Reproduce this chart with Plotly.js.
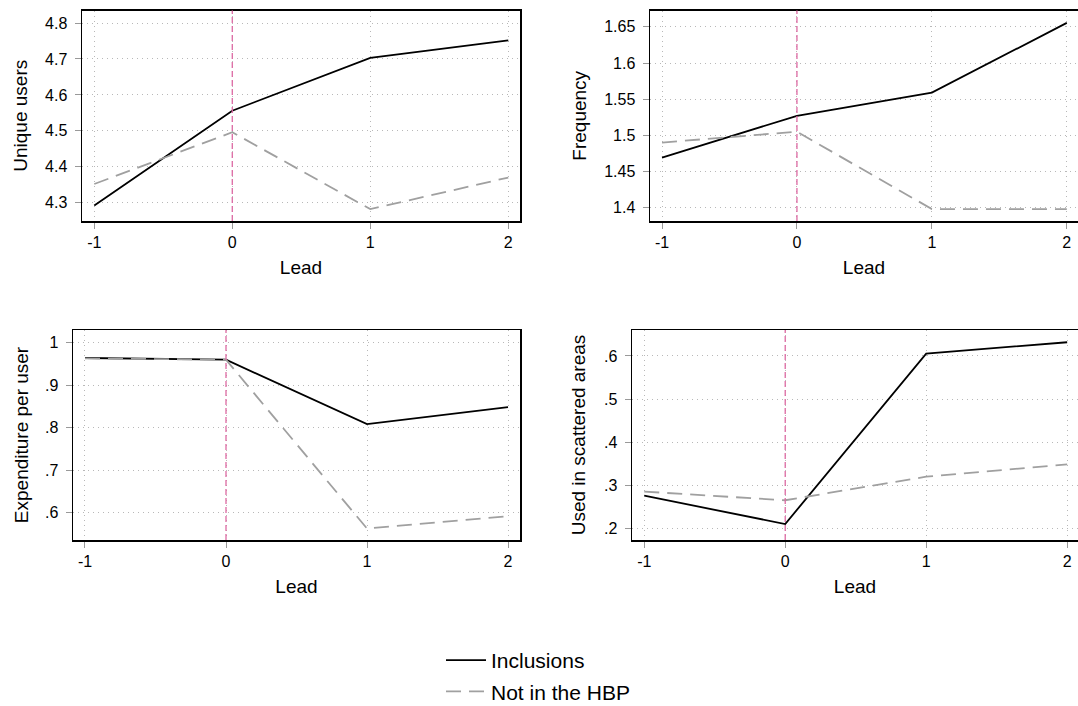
<!DOCTYPE html>
<html>
<head>
<meta charset="utf-8">
<script src="https://cdn.plot.ly/plotly-3.0.1.min.js"></script>
<style>html,body{margin:0;padding:0;background:#fff}#chart{width:1078px;height:706px}</style>
</head>
<body>
<div id="chart"></div>
<script>
const leads = [-1, 0, 1, 2];
const seriesNames = ["Inclusions", "Not in the HBP"];

const uniqueInclusions = [4.292, 4.556, 4.703, 4.752];
const uniqueNotHBP     = [4.352, 4.496, 4.282, 4.370];

const freqInclusions = [1.469, 1.527, 1.559, 1.6555];
const freqNotHBP     = [1.490, 1.505, 1.398, 1.398];

const expInclusions = [0.964, 0.960, 0.808, 0.848];
const expNotHBP     = [0.963, 0.960, 0.562, 0.591];

const scatInclusions = [0.2765, 0.211, 0.6054, 0.6317];
const scatNotHBP     = [0.286, 0.266, 0.3205, 0.349];

const yTitles = ["Unique users", "Frequency", "Expenditure per user", "Used in scattered areas"];
const xTitle = "Lead";

const uniqueTicks = [4.3, 4.4, 4.5, 4.6, 4.7, 4.8];
const uniqueTickText = ["4.3", "4.4", "4.5", "4.6", "4.7", "4.8"];
const freqTicks = [1.4, 1.45, 1.5, 1.55, 1.6, 1.65];
const freqTickText = ["1.4", "1.45", "1.5", "1.55", "1.6", "1.65"];
const expTicks = [0.6, 0.7, 0.8, 0.9, 1];
const expTickText = [".6", ".7", ".8", ".9", "1"];
const scatTicks = [0.2, 0.3, 0.4, 0.5, 0.6];
const scatTickText = [".2", ".3", ".4", ".5", ".6"];
const xTicks = [-1, 0, 1, 2];
const xTickText = ["-1", "0", "1", "2"];

const W = 1078, H = 706;
const FONT = "Liberation Sans, Arial, Helvetica, sans-serif";

const panels = [
  {inc: uniqueInclusions, not: uniqueNotHBP, yt: uniqueTicks, ytt: uniqueTickText,
   yr: [4.249, 4.835], px: [82, 520], py: [10.5, 221], xr: [-1.089, 2.085], right: false, ys: 12},
  {inc: freqInclusions, not: freqNotHBP, yt: freqTicks, ytt: freqTickText,
   yr: [1.3815, 1.6726], px: [650, 1078], py: [10.5, 221], xr: [-1.089, 2.083], right: true, ys: 12},
  {inc: expInclusions, not: expNotHBP, yt: expTicks, ytt: expTickText,
   yr: [0.535, 1.030], px: [73, 520], py: [330, 540], xr: [-1.085, 2.085], right: false, ys: 11},
  {inc: scatInclusions, not: scatNotHBP, yt: scatTicks, ytt: scatTickText,
   yr: [0.174, 0.660], px: [632, 1078], py: [330, 540], xr: [-1.087, 2.077], right: true, ys: 13}
];

const data = [];
const layout = {
  width: W, height: H,
  margin: {l: 0, r: 0, t: 0, b: 0, autoexpand: false},
  paper_bgcolor: "#fff", plot_bgcolor: "#fff",
  font: {family: FONT, color: "#000", size: 16},
  showlegend: true,
  legend: {
    x: 441 / W, xanchor: "left", y: 1 - 640 / H, yanchor: "top",
    font: {size: 21, family: FONT}, tracegroupgap: 1, itemwidth: 40,
    bgcolor: "rgba(0,0,0,0)"
  },
  shapes: []
};

panels.forEach((p, i) => {
  const n = i + 1;
  const xa = "x" + (n === 1 ? "" : n), ya = "y" + (n === 1 ? "" : n);
  const xk = "xaxis" + (n === 1 ? "" : n), yk = "yaxis" + (n === 1 ? "" : n);
  data.push({
    x: leads, y: p.inc, xaxis: xa, yaxis: ya, type: "scatter", mode: "lines",
    name: seriesNames[0], legendgroup: "inc", showlegend: i === 0,
    line: {color: "#000", width: 1.8}, hoverinfo: "skip"
  });
  data.push({
    x: leads, y: p.not, xaxis: xa, yaxis: ya, type: "scatter", mode: "lines",
    name: seriesNames[1], legendgroup: "not", showlegend: i === 0,
    line: {color: "#a0a0a0", width: 1.8, dash: "15px,8px"}, hoverinfo: "skip"
  });
  layout[xk] = {
    domain: [p.px[0] / W, p.px[1] / W], anchor: ya, range: p.xr,
    tickvals: xTicks, ticktext: xTickText, ticks: "outside", ticklen: 6,
    tickcolor: "#999", tickwidth: 1, showline: true, linecolor: "#000", linewidth: 1.5,
    mirror: true, showgrid: true, gridcolor: "#b8b8b8", griddash: "1px,4px", gridwidth: 1,
    zeroline: false, tickfont: {size: 16, family: FONT}, ticklabelstandoff: 0,
    title: {text: xTitle, font: {size: 19, family: FONT}, standoff: 11}
  };
  layout[yk] = {
    domain: [1 - p.py[1] / H, 1 - p.py[0] / H], anchor: xa, range: p.yr,
    tickvals: p.yt, ticktext: p.ytt, ticks: "outside", ticklen: 6,
    tickcolor: "#999", tickwidth: 1, showline: true, linecolor: "#000", linewidth: 1.5,
    mirror: p.right ? false : true, showgrid: true, gridcolor: "#b8b8b8", griddash: "1px,4px", gridwidth: 1,
    zeroline: false, tickfont: {size: 16, family: FONT}, ticklabelstandoff: 4,
    title: {text: yTitles[i], font: {size: 19, family: FONT}, standoff: p.ys}
  };
  layout.shapes.push({
    type: "line", xref: xa, yref: "paper", x0: 0, x1: 0,
    y0: 1 - p.py[1] / H, y1: 1 - p.py[0] / H,
    line: {color: "#dd6aa3", width: 1.3, dash: "6px,3px"}, layer: "above"
  });
});

Plotly.newPlot("chart", data, layout, {staticPlot: true, displayModeBar: false});
</script>
</body>
</html>
